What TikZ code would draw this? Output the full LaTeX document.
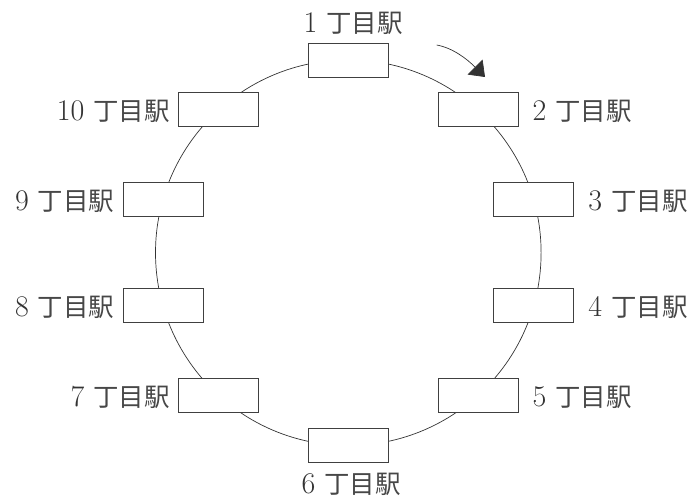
\documentclass[tikz,border=0pt]{standalone}
\usepackage{fontspec}
\newfontfamily\cjk{Noto Sans CJK JP}
\usetikzlibrary{arrows.meta,calc}
\newcommand{\stn}[1]{{\fontsize{30}{32}\selectfont #1}\hspace{9pt}{\cjk\fontsize{25.5}{28}\selectfont\color{black!72}丁目駅}}
\begin{document}
\begin{tikzpicture}[x=1pt,y=-1pt,
  station/.style={draw=black!75, line width=1pt, fill=white, minimum width=80pt, minimum height=34pt, inner sep=0pt},
  lbl/.style={text=black!80, inner sep=0pt, text depth=0pt},
  ring/.style={draw=black!80, line width=0.7pt}]
\useasboundingbox (0,0) rectangle (693,498);
\coordinate (c) at (348.3,252.7);
\draw[ring] (c) circle[radius=192.8];
\node[station] (b1) at (348.3,60) {};
\node[station] (b2) at (478,109.7) {};
\node[station] (b3) at (533.7,199.8) {};
\node[station] (b4) at (533.7,305.5) {};
\node[station] (b5) at (478,395.6) {};
\node[station] (b6) at (348.3,445.4) {};
\node[station] (b7) at (218.6,395.6) {};
\node[station] (b8) at (163,305.5) {};
\node[station] (b9) at (163,199.8) {};
\node[station] (b10) at (218.6,109.7) {};
\node[lbl, anchor=base] (l1) at ($(b1.north)+(5,-10)$) {\stn{1}};
\node[lbl, anchor=base] (l6) at ($(b6.south)+(3,30.5)$) {\stn{6}};
\node[lbl, anchor=base west] (l2) at ($(b2.east)+(14,11)$) {\stn{2}};
\node[lbl, anchor=base west] (l3) at ($(b3.east)+(14,11)$) {\stn{3}};
\node[lbl, anchor=base west] (l4) at ($(b4.east)+(14,11)$) {\stn{4}};
\node[lbl, anchor=base west] (l5) at ($(b5.east)+(14,11)$) {\stn{5}};
\node[lbl, anchor=base east] (l7) at ($(b7.west)+(-8,11)$) {\stn{7}};
\node[lbl, anchor=base east] (l8) at ($(b8.west)+(-8,11)$) {\stn{8}};
\node[lbl, anchor=base east] (l9) at ($(b9.west)+(-8,11)$) {\stn{9}};
\node[lbl, anchor=base east] (l10) at ($(b10.west)+(-8,11)$) {\stn{10}};
\coordinate (a0) at (436.7,45);
\coordinate (a1) at (485,77);
\draw[ring, -{Triangle[length=14pt,width=21pt,fill=black!80]}] (a0) .. controls (453,48) and (467,59) .. (a1);
\end{tikzpicture}
\end{document}
